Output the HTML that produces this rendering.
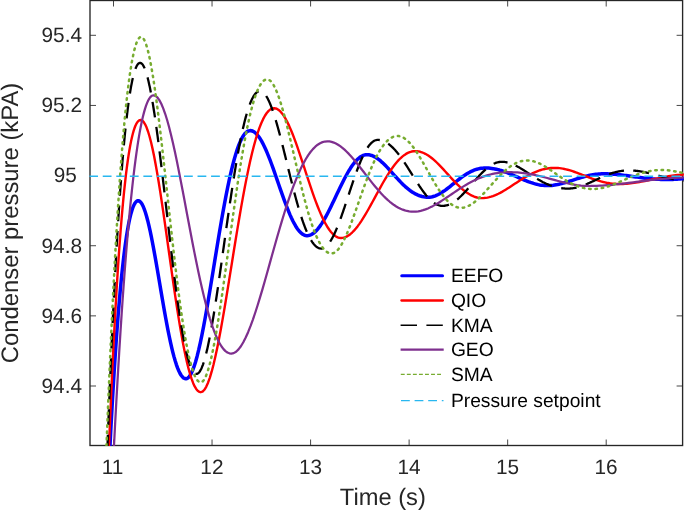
<!DOCTYPE html>
<html><head><meta charset="utf-8"><title>Condenser pressure</title>
<style>
html,body{margin:0;padding:0;background:#fff;}
body{width:685px;height:510px;overflow:hidden;font-family:"Liberation Sans",sans-serif;}
svg{display:block;will-change:transform;}
svg text{text-rendering:geometricPrecision;}
svg .lg text{fill:#000;}
svg text{font-family:"Liberation Sans",sans-serif;fill:#262626;}
</style></head><body>
<svg width="685" height="510" viewBox="0 0 685 510">
<rect x="0" y="0" width="685" height="510" fill="#fff"/>
<defs><clipPath id="c"><rect x="89.3" y="0" width="594.6" height="446.1"/></clipPath></defs>
<g stroke="#262626" stroke-width="1.35" fill="none">
<rect x="90.0" y="0.5" width="592.6" height="445.0"/>
<g stroke-width="0.85"><line x1="113.50" y1="445.5" x2="113.50" y2="439.5"/><line x1="113.50" y1="0.5" x2="113.50" y2="6.5"/><line x1="212.04" y1="445.5" x2="212.04" y2="439.5"/><line x1="212.04" y1="0.5" x2="212.04" y2="6.5"/><line x1="310.58" y1="445.5" x2="310.58" y2="439.5"/><line x1="310.58" y1="0.5" x2="310.58" y2="6.5"/><line x1="409.12" y1="445.5" x2="409.12" y2="439.5"/><line x1="409.12" y1="0.5" x2="409.12" y2="6.5"/><line x1="507.66" y1="445.5" x2="507.66" y2="439.5"/><line x1="507.66" y1="0.5" x2="507.66" y2="6.5"/><line x1="606.20" y1="445.5" x2="606.20" y2="439.5"/><line x1="606.20" y1="0.5" x2="606.20" y2="6.5"/><line x1="90.0" y1="35.30" x2="96.0" y2="35.30"/><line x1="682.6" y1="35.30" x2="676.6" y2="35.30"/><line x1="90.0" y1="105.44" x2="96.0" y2="105.44"/><line x1="682.6" y1="105.44" x2="676.6" y2="105.44"/><line x1="90.0" y1="245.72" x2="96.0" y2="245.72"/><line x1="682.6" y1="245.72" x2="676.6" y2="245.72"/><line x1="90.0" y1="315.86" x2="96.0" y2="315.86"/><line x1="682.6" y1="315.86" x2="676.6" y2="315.86"/><line x1="90.0" y1="386.00" x2="96.0" y2="386.00"/><line x1="682.6" y1="386.00" x2="676.6" y2="386.00"/></g>
</g>
<g clip-path="url(#c)" fill="none" stroke-linejoin="round">
<path d="M107.00,508.71 L107.78,491.43 L108.56,474.76 L109.34,458.66 L110.12,443.15 L110.90,428.21 L111.68,413.82 L112.46,399.99 L113.24,386.71 L114.02,373.96 L114.80,361.74 L115.58,350.04 L116.36,338.86 L117.14,328.18 L117.92,317.99 L118.70,308.29 L119.48,299.08 L120.26,290.33 L121.04,282.05 L121.82,274.22 L122.60,266.85 L123.38,259.91 L124.16,253.40 L124.94,247.31 L125.72,241.64 L126.50,236.38 L127.28,231.52 L128.06,227.04 L128.84,222.95 L129.62,219.23 L130.40,215.88 L131.18,212.89 L131.96,210.24 L132.74,207.94 L133.52,205.97 L134.30,204.33 L135.08,203.00 L135.86,201.98 L136.64,201.26 L137.42,200.84 L138.20,200.70 L139.39,201.04 L140.58,202.03 L141.78,203.68 L142.97,205.95 L144.16,208.81 L145.35,212.25 L146.55,216.22 L147.74,220.69 L148.93,225.61 L150.12,230.96 L151.32,236.68 L152.51,242.73 L153.70,249.06 L154.89,255.63 L156.09,262.39 L157.28,269.29 L158.47,276.28 L159.66,283.33 L160.86,290.37 L162.05,297.38 L163.24,304.30 L164.44,311.09 L165.63,317.72 L166.82,324.14 L168.01,330.32 L169.21,336.24 L170.40,341.85 L171.59,347.14 L172.78,352.08 L173.97,356.63 L175.17,360.80 L176.36,364.56 L177.55,367.89 L178.75,370.79 L179.94,373.24 L181.13,375.25 L182.32,376.81 L183.51,377.92 L184.71,378.58 L185.90,378.80 L187.50,378.31 L189.11,376.84 L190.72,374.43 L192.32,371.11 L193.93,366.92 L195.53,361.92 L197.13,356.16 L198.74,349.69 L200.34,342.58 L201.95,334.88 L203.56,326.68 L205.16,318.02 L206.77,308.99 L208.37,299.65 L209.97,290.08 L211.58,280.33 L213.19,270.49 L214.79,260.61 L216.40,250.77 L218.00,241.01 L219.61,231.41 L221.21,222.02 L222.81,212.89 L224.42,204.07 L226.03,195.60 L227.63,187.54 L229.24,179.92 L230.84,172.76 L232.44,166.11 L234.05,159.98 L235.66,154.41 L237.26,149.40 L238.87,144.97 L240.47,141.13 L242.07,137.89 L243.68,135.24 L245.28,133.20 L246.89,131.75 L248.50,130.88 L250.10,130.60 L251.52,130.77 L252.94,131.27 L254.37,132.11 L255.79,133.26 L257.21,134.74 L258.63,136.52 L260.06,138.59 L261.48,140.94 L262.90,143.56 L264.32,146.43 L265.75,149.52 L267.17,152.82 L268.59,156.30 L270.01,159.96 L271.44,163.75 L272.86,167.66 L274.28,171.66 L275.70,175.73 L277.13,179.84 L278.55,183.96 L279.97,188.08 L281.39,192.17 L282.82,196.19 L284.24,200.13 L285.66,203.96 L287.08,207.67 L288.51,211.21 L289.93,214.59 L291.35,217.77 L292.77,220.74 L294.20,223.48 L295.62,225.97 L297.04,228.20 L298.46,230.16 L299.89,231.84 L301.31,233.22 L302.73,234.30 L304.15,235.08 L305.58,235.54 L307.00,235.70 L308.50,235.56 L310.00,235.16 L311.51,234.49 L313.01,233.56 L314.51,232.38 L316.01,230.96 L317.52,229.31 L319.02,227.44 L320.52,225.36 L322.02,223.09 L323.53,220.65 L325.03,218.05 L326.53,215.31 L328.04,212.45 L329.54,209.49 L331.04,206.44 L332.54,203.33 L334.05,200.18 L335.55,197.00 L337.05,193.81 L338.55,190.64 L340.06,187.51 L341.56,184.43 L343.06,181.42 L344.56,178.51 L346.06,175.70 L347.57,173.01 L349.07,170.46 L350.57,168.07 L352.08,165.84 L353.58,163.78 L355.08,161.92 L356.58,160.26 L358.09,158.80 L359.59,157.55 L361.09,156.53 L362.59,155.73 L364.10,155.16 L365.60,154.81 L367.10,154.70 L368.63,154.79 L370.16,155.06 L371.68,155.49 L373.21,156.10 L374.74,156.85 L376.27,157.75 L377.79,158.78 L379.32,159.94 L380.85,161.21 L382.38,162.58 L383.90,164.03 L385.43,165.56 L386.96,167.15 L388.49,168.78 L390.01,170.45 L391.54,172.14 L393.07,173.85 L394.60,175.55 L396.12,177.24 L397.65,178.91 L399.18,180.54 L400.70,182.14 L402.23,183.68 L403.76,185.16 L405.29,186.58 L406.81,187.92 L408.34,189.18 L409.87,190.37 L411.40,191.46 L412.93,192.46 L414.45,193.37 L415.98,194.19 L417.51,194.90 L419.03,195.52 L420.56,196.04 L422.09,196.46 L423.62,196.79 L425.14,197.02 L426.67,197.16 L428.20,197.20 L429.63,197.14 L431.06,196.97 L432.50,196.69 L433.93,196.30 L435.36,195.80 L436.80,195.22 L438.23,194.54 L439.66,193.78 L441.09,192.94 L442.52,192.03 L443.96,191.07 L445.39,190.05 L446.82,188.99 L448.25,187.89 L449.69,186.76 L451.12,185.62 L452.55,184.46 L453.99,183.30 L455.42,182.14 L456.85,180.99 L458.28,179.86 L459.71,178.76 L461.15,177.68 L462.58,176.64 L464.01,175.65 L465.44,174.70 L466.88,173.80 L468.31,172.96 L469.74,172.18 L471.18,171.46 L472.61,170.80 L474.04,170.21 L475.47,169.69 L476.90,169.24 L478.34,168.86 L479.77,168.55 L481.20,168.31 L482.63,168.14 L484.07,168.03 L485.50,168.00 L487.05,168.03 L488.61,168.11 L490.16,168.24 L491.71,168.42 L493.26,168.65 L494.81,168.93 L496.37,169.26 L497.92,169.64 L499.47,170.06 L501.02,170.52 L502.58,171.02 L504.13,171.55 L505.68,172.12 L507.24,172.71 L508.79,173.34 L510.34,173.98 L511.89,174.64 L513.45,175.31 L515.00,176.00 L516.55,176.69 L518.10,177.38 L519.65,178.07 L521.21,178.75 L522.76,179.42 L524.31,180.07 L525.87,180.70 L527.42,181.31 L528.97,181.90 L530.52,182.45 L532.08,182.96 L533.63,183.44 L535.18,183.88 L536.73,184.27 L538.28,184.61 L539.84,184.91 L541.39,185.16 L542.94,185.35 L544.50,185.49 L546.05,185.57 L547.60,185.60 L549.02,185.58 L550.44,185.51 L551.85,185.40 L553.27,185.25 L554.69,185.05 L556.11,184.82 L557.52,184.56 L558.94,184.26 L560.36,183.92 L561.77,183.57 L563.19,183.18 L564.61,182.78 L566.03,182.36 L567.45,181.92 L568.86,181.47 L570.28,181.01 L571.70,180.54 L573.12,180.08 L574.53,179.61 L575.95,179.14 L577.37,178.69 L578.78,178.24 L580.20,177.80 L581.62,177.38 L583.04,176.97 L584.45,176.58 L585.87,176.21 L587.29,175.87 L588.71,175.54 L590.12,175.24 L591.54,174.97 L592.96,174.73 L594.38,174.51 L595.79,174.32 L597.21,174.16 L598.63,174.03 L600.05,173.93 L601.46,173.86 L602.88,173.81 L604.30,173.80 L605.87,173.81 L607.43,173.84 L609.00,173.90 L610.57,173.97 L612.14,174.06 L613.70,174.18 L615.27,174.30 L616.84,174.45 L618.41,174.61 L619.97,174.78 L621.54,174.97 L623.11,175.16 L624.68,175.37 L626.25,175.58 L627.81,175.80 L629.38,176.02 L630.95,176.24 L632.51,176.47 L634.08,176.69 L635.65,176.92 L637.22,177.14 L638.78,177.36 L640.35,177.57 L641.92,177.77 L643.49,177.97 L645.05,178.16 L646.62,178.33 L648.19,178.50 L649.76,178.66 L651.33,178.80 L652.89,178.93 L654.46,179.05 L656.03,179.16 L657.60,179.25 L659.16,179.33 L660.73,179.39 L662.30,179.44 L663.87,179.47 L665.43,179.49 L667.00,179.50 L668.45,179.49 L669.90,179.47 L671.35,179.43 L672.80,179.38 L674.25,179.31 L675.70,179.24 L677.15,179.15 L678.60,179.04 L680.05,178.93 L681.50,178.81 L682.95,178.68 L684.10,178.57" stroke="#0000ff" stroke-width="3.5"/>
<path d="M106.00,525.27 L106.86,501.14 L107.73,477.93 L108.59,455.63 L109.46,434.23 L110.33,413.69 L111.19,394.02 L112.05,375.19 L112.92,357.18 L113.78,339.99 L114.65,323.59 L115.52,307.96 L116.38,293.10 L117.25,278.98 L118.11,265.59 L118.97,252.91 L119.84,240.93 L120.70,229.63 L121.57,219.00 L122.44,209.01 L123.30,199.65 L124.16,190.90 L125.03,182.76 L125.89,175.20 L126.76,168.20 L127.62,161.75 L128.49,155.84 L129.35,150.45 L130.22,145.55 L131.09,141.14 L131.95,137.20 L132.81,133.72 L133.68,130.66 L134.54,128.03 L135.41,125.80 L136.28,123.96 L137.14,122.49 L138.00,121.38 L138.87,120.60 L139.74,120.15 L140.60,120.00 L142.10,120.48 L143.60,121.92 L145.11,124.30 L146.61,127.59 L148.11,131.75 L149.61,136.76 L151.12,142.56 L152.62,149.11 L154.12,156.36 L155.62,164.24 L157.13,172.71 L158.63,181.69 L160.13,191.13 L161.63,200.95 L163.14,211.09 L164.64,221.48 L166.14,232.06 L167.64,242.74 L169.15,253.47 L170.65,264.17 L172.15,274.79 L173.66,285.25 L175.16,295.49 L176.66,305.46 L178.16,315.10 L179.66,324.35 L181.17,333.16 L182.67,341.49 L184.17,349.29 L185.67,356.53 L187.18,363.16 L188.68,369.17 L190.18,374.51 L191.69,379.18 L193.19,383.15 L194.69,386.41 L196.19,388.94 L197.69,390.76 L199.20,391.84 L200.70,392.20 L202.53,391.59 L204.37,389.77 L206.20,386.79 L208.04,382.70 L209.88,377.57 L211.71,371.46 L213.54,364.44 L215.38,356.60 L217.22,348.02 L219.05,338.77 L220.88,328.96 L222.72,318.66 L224.56,307.96 L226.39,296.96 L228.22,285.73 L230.06,274.36 L231.90,262.94 L233.73,251.54 L235.56,240.24 L237.40,229.10 L239.24,218.20 L241.07,207.60 L242.91,197.34 L244.74,187.50 L246.58,178.11 L248.41,169.21 L250.25,160.84 L252.08,153.03 L253.92,145.82 L255.75,139.21 L257.59,133.23 L259.42,127.89 L261.25,123.19 L263.09,119.14 L264.93,115.75 L266.76,112.99 L268.60,110.87 L270.43,109.38 L272.26,108.49 L274.10,108.20 L275.77,108.44 L277.45,109.14 L279.12,110.30 L280.79,111.91 L282.46,113.94 L284.13,116.37 L285.81,119.19 L287.48,122.37 L289.15,125.88 L290.83,129.70 L292.50,133.79 L294.17,138.13 L295.84,142.68 L297.51,147.41 L299.19,152.28 L300.86,157.27 L302.53,162.33 L304.21,167.45 L305.88,172.57 L307.55,177.67 L309.22,182.73 L310.89,187.70 L312.57,192.56 L314.24,197.29 L315.91,201.84 L317.59,206.21 L319.26,210.37 L320.93,214.29 L322.60,217.96 L324.27,221.35 L325.95,224.46 L327.62,227.27 L329.29,229.77 L330.97,231.95 L332.64,233.80 L334.31,235.31 L335.98,236.49 L337.65,237.33 L339.33,237.83 L341.00,238.00 L342.86,237.84 L344.71,237.37 L346.57,236.59 L348.43,235.52 L350.29,234.16 L352.14,232.53 L354.00,230.64 L355.86,228.51 L357.72,226.15 L359.57,223.60 L361.43,220.86 L363.29,217.95 L365.15,214.90 L367.00,211.74 L368.86,208.47 L370.72,205.13 L372.58,201.74 L374.44,198.32 L376.29,194.89 L378.15,191.47 L380.01,188.09 L381.87,184.76 L383.72,181.50 L385.58,178.34 L387.44,175.29 L389.30,172.37 L391.15,169.59 L393.01,166.96 L394.87,164.51 L396.73,162.24 L398.58,160.16 L400.44,158.28 L402.30,156.60 L404.16,155.15 L406.01,153.91 L407.87,152.90 L409.73,152.11 L411.59,151.55 L413.44,151.21 L415.30,151.10 L416.97,151.18 L418.63,151.41 L420.30,151.79 L421.97,152.31 L423.64,152.99 L425.31,153.80 L426.97,154.74 L428.64,155.81 L430.31,156.99 L431.98,158.29 L433.64,159.69 L435.31,161.18 L436.98,162.75 L438.64,164.40 L440.31,166.10 L441.98,167.86 L443.65,169.66 L445.31,171.48 L446.98,173.32 L448.65,175.17 L450.32,177.01 L451.99,178.83 L453.65,180.63 L455.32,182.38 L456.99,184.09 L458.66,185.73 L460.32,187.30 L461.99,188.80 L463.66,190.21 L465.32,191.52 L466.99,192.73 L468.66,193.82 L470.33,194.81 L472.00,195.67 L473.66,196.41 L475.33,197.01 L477.00,197.49 L478.67,197.83 L480.33,198.03 L482.00,198.10 L483.82,198.04 L485.63,197.87 L487.45,197.58 L489.27,197.18 L491.09,196.68 L492.91,196.08 L494.72,195.39 L496.54,194.61 L498.36,193.76 L500.18,192.84 L501.99,191.85 L503.81,190.80 L505.63,189.71 L507.44,188.59 L509.26,187.43 L511.08,186.25 L512.90,185.05 L514.72,183.86 L516.53,182.66 L518.35,181.47 L520.17,180.30 L521.99,179.15 L523.80,178.04 L525.62,176.96 L527.44,175.92 L529.25,174.93 L531.07,174.00 L532.89,173.12 L534.71,172.30 L536.53,171.54 L538.34,170.85 L540.16,170.23 L541.98,169.69 L543.80,169.21 L545.61,168.81 L547.43,168.48 L549.25,168.22 L551.07,168.04 L552.88,167.94 L554.70,167.90 L556.32,167.93 L557.94,168.02 L559.56,168.17 L561.18,168.38 L562.80,168.65 L564.42,168.96 L566.04,169.33 L567.66,169.73 L569.28,170.19 L570.90,170.67 L572.52,171.20 L574.14,171.75 L575.76,172.33 L577.38,172.92 L579.00,173.54 L580.62,174.16 L582.24,174.80 L583.86,175.44 L585.48,176.07 L587.10,176.71 L588.72,177.33 L590.34,177.94 L591.96,178.54 L593.58,179.12 L595.20,179.67 L596.82,180.21 L598.44,180.71 L600.06,181.18 L601.68,181.62 L603.30,182.03 L604.92,182.40 L606.54,182.74 L608.16,183.03 L609.78,183.29 L611.40,183.51 L613.02,183.69 L614.64,183.82 L616.26,183.92 L617.88,183.98 L619.50,184.00 L621.31,183.98 L623.12,183.93 L624.94,183.83 L626.75,183.71 L628.56,183.55 L630.38,183.36 L632.19,183.14 L634.00,182.89 L635.81,182.62 L637.62,182.33 L639.44,182.01 L641.25,181.68 L643.06,181.33 L644.88,180.97 L646.69,180.60 L648.50,180.23 L650.31,179.84 L652.12,179.46 L653.94,179.07 L655.75,178.69 L657.56,178.32 L659.38,177.95 L661.19,177.59 L663.00,177.24 L664.81,176.91 L666.62,176.59 L668.44,176.28 L670.25,176.00 L672.06,175.73 L673.88,175.49 L675.69,175.26 L677.50,175.06 L679.31,174.88 L681.12,174.73 L682.94,174.60 L684.10,174.53" stroke="#ff0000" stroke-width="2.4"/>
<path d="M104.61,526.90 L104.64,526.15 L104.66,525.40 L104.69,524.65 L104.71,523.90 L104.74,523.15 L104.76,522.40 L104.79,521.65 L104.81,520.90 L104.84,520.15 L104.87,519.40 L104.89,518.65 L104.92,517.90 L104.94,517.15 L104.97,516.41 L104.99,515.66 L105.02,514.91 L105.04,514.16 L105.07,513.41 L105.09,512.66 L105.12,511.91 L105.15,511.16 L105.15,511.16 M105.48,501.41 L105.51,500.66 L105.53,499.91 L105.56,499.17 L105.59,498.42 L105.61,497.67 L105.64,496.92 L105.67,496.17 L105.69,495.42 L105.72,494.67 L105.74,493.92 L105.77,493.17 L105.80,492.42 L105.82,491.67 L105.85,490.92 L105.88,490.17 L105.90,489.42 L105.93,488.67 L105.96,487.92 L105.98,487.17 L106.01,486.42 L106.03,485.67 L106.03,485.67 M106.38,475.93 L106.41,475.18 L106.44,474.43 L106.46,473.68 L106.49,472.93 L106.52,472.18 L106.55,471.43 L106.57,470.68 L106.60,469.93 L106.63,469.18 L106.65,468.43 L106.68,467.69 L106.71,466.94 L106.74,466.19 L106.76,465.44 L106.79,464.69 L106.82,463.94 L106.85,463.19 L106.87,462.44 L106.90,461.69 L106.93,460.94 L106.96,460.19 L106.96,460.19 M107.32,450.45 L107.34,449.70 L107.37,448.95 L107.40,448.20 L107.43,447.45 L107.46,446.70 L107.49,445.95 L107.52,445.20 L107.54,444.45 L107.57,443.70 L107.60,442.95 L107.63,442.20 L107.66,441.45 L107.69,440.70 L107.71,439.95 L107.74,439.21 L107.77,438.46 L107.80,437.71 L107.83,436.96 L107.86,436.21 L107.88,435.46 L107.91,434.71 L107.91,434.71 M108.29,424.97 L108.32,424.22 L108.35,423.47 L108.38,422.72 L108.41,421.97 L108.44,421.22 L108.47,420.47 L108.50,419.72 L108.53,418.97 L108.55,418.22 L108.58,417.47 L108.61,416.72 L108.64,415.97 L108.67,415.22 L108.70,414.47 L108.73,413.72 L108.76,412.97 L108.79,412.23 L108.82,411.48 L108.85,410.73 L108.88,409.98 L108.91,409.23 L108.91,409.23 M109.30,399.49 L109.33,398.74 L109.36,397.99 L109.40,397.24 L109.43,396.49 L109.46,395.74 L109.49,394.99 L109.52,394.24 L109.55,393.49 L109.58,392.74 L109.61,391.99 L109.64,391.24 L109.67,390.49 L109.70,389.74 L109.73,388.99 L109.76,388.25 L109.79,387.50 L109.82,386.75 L109.85,386.00 L109.89,385.25 L109.92,384.50 L109.95,383.75 L109.95,383.75 M110.36,374.01 L110.40,373.26 L110.43,372.51 L110.46,371.76 L110.49,371.01 L110.52,370.26 L110.55,369.51 L110.59,368.76 L110.62,368.01 L110.65,367.26 L110.68,366.51 L110.71,365.77 L110.75,365.02 L110.78,364.27 L110.81,363.52 L110.85,362.77 L110.88,362.02 L110.91,361.27 L110.94,360.52 L110.98,359.77 L111.01,359.02 L111.04,358.27 L111.04,358.27 M111.47,348.53 L111.51,347.78 L111.54,347.03 L111.57,346.28 L111.61,345.54 L111.64,344.79 L111.68,344.04 L111.71,343.29 L111.74,342.54 L111.78,341.79 L111.81,341.04 L111.85,340.29 L111.88,339.54 L111.92,338.79 L111.95,338.04 L111.99,337.29 L112.02,336.54 L112.05,335.80 L112.09,335.05 L112.12,334.30 L112.16,333.55 L112.19,332.80 L112.19,332.80 M112.65,323.06 L112.68,322.31 L112.72,321.56 L112.75,320.81 L112.79,320.06 L112.83,319.31 L112.86,318.56 L112.90,317.82 L112.93,317.07 L112.97,316.32 L113.01,315.57 L113.04,314.82 L113.08,314.07 L113.11,313.32 L113.15,312.57 L113.19,311.82 L113.22,311.07 L113.26,310.32 L113.29,309.57 L113.33,308.83 L113.37,308.08 L113.40,307.33 L113.40,307.33 M113.89,297.59 L113.93,296.84 L113.97,296.09 L114.00,295.34 L114.04,294.59 L114.08,293.84 L114.12,293.10 L114.15,292.35 L114.19,291.60 L114.23,290.85 L114.27,290.10 L114.30,289.35 L114.34,288.60 L114.38,287.85 L114.42,287.10 L114.46,286.35 L114.50,285.60 L114.54,284.86 L114.58,284.11 L114.62,283.36 L114.66,282.61 L114.70,281.86 L114.70,281.86 M115.21,272.12 L115.25,271.37 L115.29,270.63 L115.33,269.88 L115.37,269.13 L115.42,268.38 L115.46,267.63 L115.50,266.88 L115.54,266.13 L115.58,265.38 L115.62,264.63 L115.66,263.89 L115.70,263.14 L115.74,262.39 L115.79,261.64 L115.83,260.89 L115.87,260.14 L115.91,259.39 L115.95,258.64 L115.99,257.90 L116.03,257.15 L116.07,256.40 L116.07,256.40 M116.63,246.66 L116.68,245.91 L116.72,245.17 L116.76,244.42 L116.81,243.67 L116.85,242.92 L116.89,242.17 L116.94,241.42 L116.98,240.67 L117.03,239.92 L117.07,239.18 L117.12,238.43 L117.16,237.68 L117.21,236.93 L117.25,236.18 L117.30,235.43 L117.34,234.68 L117.39,233.94 L117.43,233.19 L117.48,232.44 L117.52,231.69 L117.57,230.94 L117.57,230.94 M118.17,221.21 L118.22,220.46 L118.27,219.71 L118.32,218.96 L118.36,218.22 L118.41,217.47 L118.46,216.72 L118.51,215.97 L118.55,215.22 L118.60,214.47 L118.65,213.73 L118.70,212.98 L118.74,212.23 L118.79,211.48 L118.85,210.73 L118.90,209.98 L118.95,209.23 L119.00,208.49 L119.05,207.74 L119.10,206.99 L119.15,206.24 L119.20,205.49 L119.20,205.49 M119.86,195.77 L119.91,195.02 L119.97,194.27 L120.02,193.52 L120.07,192.77 L120.13,192.03 L120.18,191.28 L120.23,190.53 L120.28,189.78 L120.34,189.03 L120.39,188.28 L120.44,187.54 L120.50,186.79 L120.55,186.04 L120.61,185.29 L120.66,184.54 L120.72,183.80 L120.77,183.05 L120.83,182.30 L120.89,181.55 L120.94,180.81 L121.00,180.06 L121.00,180.06 M121.75,170.34 L121.81,169.59 L121.86,168.84 L121.92,168.09 L121.98,167.35 L122.04,166.60 L122.10,165.85 L122.16,165.10 L122.22,164.35 L122.28,163.61 L122.34,162.86 L122.41,162.11 L122.47,161.36 L122.53,160.62 L122.59,159.87 L122.66,159.12 L122.72,158.38 L122.78,157.63 L122.85,156.88 L122.91,156.13 L122.97,155.39 L123.02,154.89 M123.86,145.43 L123.92,144.68 L123.99,143.93 L124.06,143.18 L124.13,142.44 L124.20,141.69 L124.27,140.94 L124.34,140.20 L124.42,139.45 L124.49,138.70 L124.56,137.96 L124.63,137.21 L124.70,136.47 L124.78,135.72 L124.85,134.97 L124.92,134.23 L124.99,133.48 L125.07,132.73 L125.15,131.99 L125.22,131.24 L125.30,130.50 L125.38,129.75 L125.45,129.00 L125.51,128.51 M126.61,118.32 L126.70,117.57 L126.78,116.83 L126.87,116.08 L126.96,115.34 L127.05,114.59 L127.14,113.85 L127.23,113.10 L127.32,112.36 L127.41,111.61 L127.50,110.87 L127.59,110.12 L127.68,109.38 L127.78,108.64 L127.87,107.89 L127.97,107.15 L128.07,106.40 L128.17,105.66 L128.26,104.92 L128.36,104.17 L128.46,103.43 L128.52,102.93 M129.91,93.54 L130.03,92.80 L130.14,92.05 L130.26,91.31 L130.39,90.57 L130.51,89.84 L130.64,89.10 L130.77,88.36 L130.90,87.62 L131.03,86.88 L131.16,86.14 L131.30,85.40 L131.44,84.67 L131.59,83.93 L131.73,83.20 L131.87,82.46 L132.02,81.72 L132.17,80.99 L132.33,80.26 L132.49,79.52 L132.66,78.79 L132.82,78.06 L132.82,78.06 M135.43,68.93 L135.69,68.23 L135.99,67.54 L136.30,66.86 L136.61,66.18 L136.98,65.53 L137.36,64.88 L137.81,64.28 L138.29,63.70 L138.88,63.25 L139.55,62.93 L140.27,62.86 L140.97,63.13 L141.62,63.47 L142.12,64.03 L142.62,64.59 L143.06,65.19 L143.41,65.85 L143.76,66.52 L144.11,67.18 L144.43,67.85 L144.61,68.32 M147.52,77.36 L147.70,78.08 L147.89,78.81 L148.07,79.54 L148.25,80.27 L148.44,80.99 L148.61,81.72 L148.77,82.46 L148.93,83.19 L149.09,83.92 L149.25,84.65 L149.41,85.39 L149.57,86.12 L149.73,86.85 L149.89,87.59 L150.04,88.32 L150.18,89.06 L150.32,89.79 L150.46,90.53 L150.60,91.27 L150.74,92.00 L150.84,92.49 M152.51,101.84 L152.64,102.58 L152.77,103.32 L152.89,104.06 L153.01,104.80 L153.13,105.54 L153.24,106.28 L153.36,107.03 L153.48,107.77 L153.60,108.51 L153.71,109.25 L153.83,109.99 L153.95,110.73 L154.07,111.47 L154.19,112.21 L154.30,112.95 L154.41,113.69 L154.52,114.44 L154.63,115.18 L154.74,115.92 L154.85,116.66 L154.96,117.40 L154.96,117.40 M156.30,126.81 L156.41,127.55 L156.51,128.29 L156.61,129.04 L156.72,129.78 L156.82,130.52 L156.92,131.26 L157.03,132.01 L157.13,132.75 L157.22,133.49 L157.32,134.24 L157.42,134.98 L157.52,135.72 L157.62,136.47 L157.72,137.21 L157.81,137.96 L157.91,138.70 L158.01,139.44 L158.11,140.19 L158.21,140.93 L158.31,141.67 L158.37,142.17 M159.54,151.34 L159.63,152.09 L159.73,152.83 L159.82,153.58 L159.91,154.32 L160.01,155.07 L160.10,155.81 L160.19,156.55 L160.28,157.30 L160.37,158.04 L160.46,158.79 L160.55,159.53 L160.64,160.28 L160.74,161.02 L160.83,161.77 L160.92,162.51 L161.01,163.25 L161.10,164.00 L161.19,164.74 L161.28,165.49 L161.37,166.23 L161.46,166.98 L161.49,167.23 M162.65,176.91 L162.74,177.65 L162.82,178.40 L162.91,179.14 L163.00,179.89 L163.09,180.63 L163.17,181.38 L163.26,182.12 L163.35,182.87 L163.44,183.61 L163.52,184.36 L163.61,185.10 L163.70,185.84 L163.78,186.59 L163.87,187.33 L163.96,188.08 L164.05,188.82 L164.13,189.57 L164.22,190.31 L164.31,191.06 L164.39,191.80 L164.45,192.30 M165.54,201.74 L165.63,202.48 L165.71,203.23 L165.80,203.97 L165.89,204.72 L165.97,205.46 L166.06,206.21 L166.14,206.95 L166.23,207.70 L166.32,208.44 L166.40,209.19 L166.49,209.93 L166.57,210.68 L166.66,211.42 L166.74,212.17 L166.83,212.91 L166.92,213.66 L167.00,214.40 L167.09,215.15 L167.17,215.89 L167.26,216.64 L167.32,217.14 M168.41,226.57 L168.49,227.32 L168.58,228.06 L168.66,228.81 L168.75,229.55 L168.84,230.30 L168.92,231.04 L169.01,231.79 L169.10,232.53 L169.18,233.28 L169.27,234.02 L169.36,234.77 L169.44,235.51 L169.53,236.26 L169.61,237.00 L169.70,237.75 L169.79,238.49 L169.88,239.24 L169.96,239.98 L170.05,240.73 L170.14,241.47 L170.20,241.97 M171.28,251.16 L171.37,251.90 L171.46,252.65 L171.55,253.39 L171.64,254.13 L171.73,254.88 L171.81,255.62 L171.90,256.37 L171.99,257.11 L172.08,257.86 L172.17,258.60 L172.26,259.35 L172.35,260.09 L172.44,260.84 L172.53,261.58 L172.62,262.33 L172.71,263.07 L172.80,263.81 L172.89,264.56 L172.99,265.30 L173.08,266.05 L173.17,266.79 L173.23,267.29 M174.43,276.96 L174.53,277.71 L174.62,278.45 L174.72,279.20 L174.81,279.94 L174.91,280.68 L175.00,281.43 L175.09,282.17 L175.19,282.92 L175.28,283.66 L175.38,284.40 L175.48,285.15 L175.58,285.89 L175.67,286.64 L175.77,287.38 L175.87,288.12 L175.97,288.87 L176.07,289.61 L176.16,290.35 L176.26,291.10 L176.33,291.59 M177.54,300.51 L177.64,301.25 L177.74,302.00 L177.85,302.74 L177.95,303.48 L178.05,304.22 L178.16,304.97 L178.26,305.71 L178.37,306.45 L178.48,307.19 L178.59,307.94 L178.70,308.68 L178.81,309.42 L178.91,310.16 L179.02,310.90 L179.13,311.65 L179.24,312.39 L179.35,313.13 L179.46,313.87 L179.56,314.62 L179.68,315.36 L179.75,315.85 M181.23,325.24 L181.36,325.97 L181.48,326.71 L181.60,327.45 L181.73,328.19 L181.85,328.93 L181.97,329.67 L182.10,330.41 L182.22,331.15 L182.35,331.89 L182.48,332.63 L182.61,333.37 L182.75,334.11 L182.88,334.84 L183.01,335.58 L183.15,336.32 L183.28,337.06 L183.42,337.80 L183.55,338.53 L183.69,339.27 L183.82,340.01 L183.97,340.74 L184.12,341.48 L184.12,341.48 M186.19,351.26 L186.35,351.99 L186.52,352.73 L186.69,353.46 L186.88,354.18 L187.07,354.91 L187.25,355.63 L187.44,356.36 L187.63,357.09 L187.82,357.81 L188.00,358.54 L188.21,359.26 L188.43,359.98 L188.65,360.69 L188.87,361.41 L189.08,362.13 L189.30,362.85 L189.53,363.56 L189.79,364.27 L190.05,364.97 L190.31,365.67 L190.39,365.91 M195.46,373.69 L196.18,373.90 L196.89,373.86 L197.59,373.60 L198.24,373.25 L198.75,372.70 L199.25,372.15 L199.74,371.58 L200.10,370.93 L200.47,370.27 L200.84,369.62 L201.20,368.96 L201.50,368.27 L201.78,367.58 L202.07,366.89 L202.35,366.19 L202.63,365.50 L202.90,364.80 L203.13,364.08 L203.36,363.37 L203.60,362.66 L203.67,362.42 M206.19,353.52 L206.36,352.79 L206.53,352.06 L206.70,351.33 L206.88,350.60 L207.05,349.87 L207.22,349.14 L207.39,348.41 L207.56,347.68 L207.72,346.95 L207.88,346.21 L208.03,345.48 L208.19,344.75 L208.34,344.01 L208.50,343.28 L208.65,342.54 L208.80,341.81 L208.96,341.08 L209.11,340.34 L209.26,339.61 L209.40,338.87 L209.54,338.13 L209.69,337.40 L209.69,337.40 M211.51,327.57 L211.64,326.83 L211.77,326.09 L211.90,325.35 L212.04,324.61 L212.17,323.87 L212.30,323.13 L212.43,322.40 L212.55,321.66 L212.67,320.92 L212.80,320.18 L212.92,319.44 L213.04,318.70 L213.17,317.96 L213.29,317.22 L213.41,316.48 L213.54,315.74 L213.66,315.00 L213.78,314.26 L213.91,313.52 L214.03,312.78 L214.14,312.04 L214.22,311.54 M215.78,301.67 L215.89,300.92 L216.00,300.18 L216.11,299.44 L216.23,298.70 L216.34,297.96 L216.45,297.22 L216.57,296.47 L216.68,295.73 L216.79,294.99 L216.90,294.25 L217.02,293.51 L217.13,292.77 L217.24,292.03 L217.35,291.28 L217.46,290.54 L217.57,289.80 L217.68,289.06 L217.79,288.32 L217.90,287.57 L217.97,287.08 M219.27,278.17 L219.37,277.43 L219.48,276.69 L219.59,275.95 L219.70,275.20 L219.80,274.46 L219.91,273.72 L220.02,272.98 L220.12,272.23 L220.23,271.49 L220.34,270.75 L220.44,270.01 L220.55,269.26 L220.65,268.52 L220.76,267.78 L220.86,267.04 L220.97,266.29 L221.07,265.55 L221.18,264.81 L221.28,264.07 L221.39,263.32 L221.49,262.58 L221.49,262.58 M222.82,253.17 L222.93,252.43 L223.03,251.69 L223.13,250.95 L223.24,250.20 L223.34,249.46 L223.45,248.72 L223.55,247.98 L223.66,247.23 L223.76,246.49 L223.87,245.75 L223.97,245.00 L224.07,244.26 L224.18,243.52 L224.28,242.78 L224.39,242.03 L224.49,241.29 L224.60,240.55 L224.70,239.81 L224.80,239.06 L224.91,238.32 L224.98,237.83 M226.34,228.17 L226.45,227.43 L226.55,226.69 L226.65,225.94 L226.76,225.20 L226.87,224.46 L226.97,223.72 L227.08,222.97 L227.19,222.23 L227.29,221.49 L227.40,220.75 L227.50,220.00 L227.61,219.26 L227.72,218.52 L227.82,217.78 L227.93,217.03 L228.03,216.29 L228.14,215.55 L228.25,214.81 L228.35,214.06 L228.46,213.32 L228.53,212.83 M229.90,203.43 L230.01,202.68 L230.12,201.94 L230.23,201.20 L230.34,200.46 L230.45,199.72 L230.57,198.98 L230.68,198.23 L230.79,197.49 L230.90,196.75 L231.01,196.01 L231.12,195.27 L231.23,194.52 L231.34,193.78 L231.45,193.04 L231.56,192.30 L231.68,191.56 L231.79,190.82 L231.91,190.08 L232.02,189.33 L232.13,188.59 L232.25,187.85 L232.25,187.85 M233.71,178.47 L233.83,177.73 L233.95,176.98 L234.07,176.24 L234.19,175.50 L234.30,174.76 L234.42,174.02 L234.54,173.28 L234.66,172.54 L234.78,171.80 L234.91,171.06 L235.03,170.32 L235.15,169.58 L235.28,168.84 L235.40,168.10 L235.52,167.36 L235.65,166.62 L235.77,165.88 L235.89,165.14 L236.02,164.40 L236.14,163.66 L236.22,163.17 M237.91,153.57 L238.05,152.83 L238.18,152.09 L238.32,151.36 L238.46,150.62 L238.60,149.88 L238.73,149.14 L238.87,148.41 L239.01,147.67 L239.14,146.93 L239.28,146.19 L239.42,145.46 L239.57,144.72 L239.71,143.99 L239.86,143.25 L240.00,142.51 L240.15,141.78 L240.29,141.04 L240.44,140.31 L240.59,139.57 L240.73,138.84 L240.83,138.35 M242.83,129.06 L243.00,128.33 L243.17,127.60 L243.34,126.87 L243.51,126.14 L243.68,125.41 L243.85,124.67 L244.02,123.94 L244.19,123.22 L244.38,122.49 L244.56,121.76 L244.75,121.04 L244.94,120.31 L245.12,119.58 L245.31,118.86 L245.49,118.13 L245.68,117.40 L245.88,116.68 L246.09,115.96 L246.29,115.24 L246.50,114.52 L246.71,113.80 L246.71,113.80 M249.74,104.53 L250.00,103.83 L250.27,103.13 L250.54,102.43 L250.84,101.74 L251.15,101.06 L251.45,100.37 L251.75,99.69 L252.06,99.00 L252.42,98.34 L252.78,97.69 L253.14,97.03 L253.50,96.37 L253.90,95.74 L254.33,95.12 L254.76,94.51 L255.20,93.90 L255.72,93.36 L256.25,92.83 L256.78,92.30 L257.41,91.90 L258.06,91.52 L258.50,91.29 M266.19,95.95 L266.56,96.60 L266.94,97.24 L267.32,97.89 L267.69,98.54 L268.02,99.22 L268.34,99.89 L268.67,100.57 L269.00,101.24 L269.31,101.92 L269.60,102.61 L269.90,103.31 L270.19,104.00 L270.48,104.69 L270.76,105.38 L271.03,106.08 L271.29,106.79 L271.55,107.49 L271.82,108.19 L272.08,108.89 L272.34,109.60 L272.58,110.31 L272.74,110.78 M275.72,120.06 L275.93,120.78 L276.14,121.50 L276.36,122.22 L276.57,122.94 L276.78,123.66 L276.99,124.38 L277.19,125.10 L277.39,125.83 L277.59,126.55 L277.80,127.27 L278.00,127.99 L278.20,128.71 L278.40,129.44 L278.60,130.16 L278.79,130.89 L278.98,131.61 L279.18,132.33 L279.37,133.06 L279.57,133.78 L279.76,134.51 L279.96,135.23 L280.02,135.47 M282.44,144.92 L282.62,145.65 L282.81,146.37 L282.99,147.10 L283.17,147.83 L283.35,148.56 L283.53,149.28 L283.71,150.01 L283.89,150.74 L284.07,151.47 L284.26,152.20 L284.44,152.92 L284.62,153.65 L284.79,154.38 L284.97,155.11 L285.15,155.84 L285.33,156.56 L285.51,157.29 L285.69,158.02 L285.87,158.75 L286.05,159.48 L286.17,159.96 M288.36,168.95 L288.54,169.68 L288.72,170.41 L288.90,171.13 L289.08,171.86 L289.26,172.59 L289.44,173.32 L289.62,174.05 L289.80,174.77 L289.98,175.50 L290.16,176.23 L290.34,176.96 L290.52,177.69 L290.70,178.41 L290.88,179.14 L291.07,179.87 L291.25,180.60 L291.43,181.32 L291.61,182.05 L291.80,182.78 L291.98,183.51 L291.98,183.51 M294.29,192.46 L294.48,193.19 L294.67,193.91 L294.86,194.64 L295.06,195.36 L295.25,196.09 L295.44,196.81 L295.64,197.54 L295.84,198.26 L296.04,198.98 L296.23,199.71 L296.43,200.43 L296.63,201.15 L296.83,201.88 L297.03,202.60 L297.24,203.32 L297.44,204.04 L297.65,204.76 L297.85,205.48 L298.06,206.21 L298.27,206.93 L298.48,207.65 L298.48,207.65 M301.34,216.97 L301.58,217.68 L301.81,218.39 L302.05,219.10 L302.29,219.81 L302.53,220.52 L302.77,221.23 L303.01,221.94 L303.27,222.65 L303.52,223.35 L303.78,224.06 L304.03,224.76 L304.29,225.47 L304.55,226.17 L304.82,226.87 L305.10,227.57 L305.37,228.27 L305.64,228.96 L305.92,229.66 L306.21,230.35 L306.51,231.04 L306.80,231.73 L306.80,231.73 M311.07,240.21 L311.47,240.84 L311.87,241.48 L312.29,242.10 L312.73,242.71 L313.18,243.31 L313.62,243.91 L314.12,244.47 L314.63,245.03 L315.13,245.58 L315.70,246.07 L316.27,246.56 L316.85,247.03 L317.49,247.41 L318.13,247.80 L318.83,248.08 L319.54,248.33 L320.27,248.48 L321.01,248.57 L321.76,248.54 L322.50,248.44 L323.21,248.22 L323.21,248.22 M330.14,241.61 L330.55,240.98 L330.95,240.35 L331.33,239.70 L331.70,239.05 L332.07,238.39 L332.43,237.74 L332.78,237.08 L333.12,236.41 L333.46,235.74 L333.80,235.07 L334.12,234.39 L334.44,233.71 L334.75,233.03 L335.07,232.35 L335.38,231.67 L335.68,230.98 L335.97,230.29 L336.27,229.60 L336.57,228.91 L336.86,228.22 L337.05,227.76 M340.46,218.89 L340.72,218.19 L340.98,217.49 L341.23,216.78 L341.48,216.07 L341.73,215.37 L341.98,214.66 L342.23,213.95 L342.48,213.24 L342.72,212.53 L342.97,211.83 L343.21,211.12 L343.45,210.41 L343.70,209.70 L343.94,208.99 L344.18,208.28 L344.42,207.57 L344.66,206.86 L344.90,206.15 L345.14,205.43 L345.38,204.72 L345.61,204.01 L345.69,203.77 M348.75,194.52 L348.99,193.80 L349.22,193.09 L349.46,192.38 L349.69,191.67 L349.93,190.96 L350.16,190.24 L350.40,189.53 L350.63,188.82 L350.87,188.11 L351.11,187.40 L351.35,186.69 L351.58,185.97 L351.82,185.26 L352.06,184.55 L352.30,183.84 L352.54,183.13 L352.78,182.42 L353.02,181.71 L353.27,181.00 L353.51,180.29 L353.51,180.29 M356.59,171.57 L356.86,170.87 L357.12,170.17 L357.38,169.46 L357.64,168.76 L357.91,168.06 L358.18,167.36 L358.45,166.66 L358.72,165.96 L359.00,165.26 L359.27,164.56 L359.55,163.87 L359.84,163.18 L360.12,162.48 L360.41,161.79 L360.69,161.10 L360.99,160.41 L361.30,159.72 L361.60,159.03 L361.90,158.35 L362.20,157.66 L362.52,156.98 L362.73,156.53 M367.50,147.75 L367.92,147.13 L368.35,146.52 L368.79,145.91 L369.24,145.31 L369.72,144.73 L370.20,144.16 L370.70,143.60 L371.24,143.07 L371.77,142.55 L372.35,142.07 L372.94,141.61 L373.56,141.19 L374.22,140.83 L374.88,140.48 L375.59,140.25 L376.31,140.04 L377.06,139.96 L377.80,139.91 L378.55,139.95 L379.30,140.00 L379.79,140.08 M388.19,143.73 L388.81,144.16 L389.40,144.63 L389.98,145.10 L390.56,145.57 L391.11,146.08 L391.67,146.58 L392.22,147.09 L392.75,147.62 L393.28,148.15 L393.81,148.69 L394.31,149.24 L394.82,149.79 L395.33,150.35 L395.81,150.92 L396.30,151.49 L396.79,152.06 L397.26,152.64 L397.73,153.23 L398.20,153.81 L398.66,154.40 L398.96,154.80 M404.31,162.34 L404.73,162.97 L405.15,163.59 L405.55,164.22 L405.96,164.85 L406.37,165.48 L406.78,166.11 L407.18,166.74 L407.59,167.37 L407.99,168.00 L408.39,168.64 L408.79,169.27 L409.19,169.91 L409.59,170.54 L409.99,171.18 L410.39,171.81 L410.78,172.45 L411.18,173.08 L411.58,173.72 L411.98,174.36 L412.37,174.99 L412.77,175.63 L412.77,175.63 M417.99,183.86 L418.40,184.49 L418.82,185.12 L419.23,185.74 L419.64,186.37 L420.07,186.99 L420.49,187.60 L420.91,188.22 L421.34,188.84 L421.77,189.45 L422.21,190.06 L422.64,190.67 L423.08,191.28 L423.53,191.88 L423.98,192.48 L424.43,193.08 L424.90,193.67 L425.36,194.26 L425.83,194.85 L426.30,195.43 L426.79,196.00 L427.11,196.38 M434.01,202.88 L434.63,203.30 L435.27,203.69 L435.91,204.08 L436.58,204.41 L437.26,204.74 L437.95,205.02 L438.66,205.27 L439.37,205.49 L440.11,205.64 L440.84,205.79 L441.59,205.84 L442.34,205.90 L443.09,205.87 L443.84,205.83 L444.58,205.74 L445.32,205.64 L446.06,205.47 L446.79,205.31 L447.50,205.09 L448.22,204.86 L448.92,204.59 L448.92,204.59 M457.19,199.50 L457.76,199.02 L458.33,198.53 L458.90,198.04 L459.45,197.53 L460.00,197.02 L460.55,196.51 L461.09,195.99 L461.62,195.47 L462.15,194.93 L462.68,194.40 L463.20,193.86 L463.72,193.32 L464.23,192.77 L464.75,192.23 L465.25,191.67 L465.76,191.12 L466.27,190.57 L466.76,190.01 L467.26,189.45 L467.76,188.88 L468.26,188.32 L468.26,188.32 M474.62,180.94 L475.11,180.37 L475.61,179.81 L476.10,179.24 L476.60,178.68 L477.10,178.12 L477.59,177.56 L478.09,177.00 L478.60,176.44 L479.11,175.89 L479.61,175.34 L480.13,174.79 L480.64,174.25 L481.16,173.70 L481.69,173.17 L482.21,172.63 L482.74,172.11 L483.28,171.58 L483.82,171.06 L484.37,170.55 L484.92,170.04 L485.47,169.54 L485.66,169.37 M493.65,163.84 L494.33,163.51 L495.02,163.22 L495.71,162.94 L496.43,162.70 L497.14,162.48 L497.87,162.29 L498.60,162.13 L499.34,162.00 L500.08,161.90 L500.83,161.84 L501.58,161.81 L502.33,161.82 L503.08,161.85 L503.82,161.90 L504.57,161.98 L505.31,162.08 L506.05,162.21 L506.79,162.34 L507.52,162.51 L507.52,162.51 M515.68,165.60 L516.35,165.94 L517.02,166.28 L517.68,166.64 L518.34,167.00 L518.99,167.37 L519.64,167.74 L520.29,168.12 L520.93,168.51 L521.57,168.89 L522.21,169.29 L522.85,169.68 L523.49,170.08 L524.12,170.48 L524.75,170.89 L525.38,171.29 L526.01,171.70 L526.64,172.11 L527.27,172.52 L527.89,172.93 L528.52,173.34 L529.15,173.75 L529.15,173.75 M537.16,178.85 L537.81,179.24 L538.45,179.62 L539.10,180.00 L539.75,180.37 L540.41,180.74 L541.06,181.10 L541.72,181.46 L542.38,181.81 L543.05,182.16 L543.72,182.49 L544.39,182.83 L545.06,183.16 L545.74,183.47 L546.42,183.79 L547.11,184.09 L547.80,184.39 L548.49,184.68 L549.19,184.95 L549.88,185.23 L550.59,185.49 L551.29,185.74 L551.77,185.91 M561.24,188.15 L561.98,188.24 L562.73,188.33 L563.47,188.40 L564.22,188.46 L564.97,188.51 L565.72,188.54 L566.47,188.58 L567.22,188.59 L567.97,188.60 L568.72,188.58 L569.47,188.57 L570.22,188.52 L570.96,188.47 L571.71,188.39 L572.46,188.30 L573.20,188.19 L573.94,188.08 L574.68,187.94 L575.41,187.80 L576.14,187.64 L576.63,187.52 M585.63,184.52 L586.33,184.24 L587.02,183.94 L587.71,183.65 L588.39,183.35 L589.08,183.04 L589.76,182.73 L590.45,182.42 L591.13,182.11 L591.81,181.79 L592.49,181.48 L593.17,181.16 L593.85,180.84 L594.52,180.52 L595.20,180.20 L595.88,179.88 L596.56,179.56 L597.24,179.24 L597.91,178.92 L598.59,178.60 L599.27,178.28 L599.96,177.97 L600.18,177.87 M609.18,174.12 L609.89,173.87 L610.60,173.62 L611.31,173.39 L612.02,173.15 L612.74,172.93 L613.46,172.72 L614.18,172.51 L614.90,172.31 L615.63,172.12 L616.35,171.94 L617.08,171.77 L617.82,171.61 L618.55,171.45 L619.29,171.31 L620.02,171.17 L620.76,171.06 L621.50,170.94 L622.25,170.84 L622.99,170.75 L623.74,170.67 L623.99,170.64 M633.23,170.55 L633.97,170.60 L634.72,170.67 L635.47,170.74 L636.21,170.82 L636.96,170.90 L637.70,171.00 L638.45,171.10 L639.19,171.21 L639.93,171.32 L640.67,171.45 L641.41,171.57 L642.15,171.71 L642.88,171.85 L643.62,172.00 L644.35,172.15 L645.09,172.30 L645.82,172.46 L646.55,172.62 L647.28,172.79 L648.01,172.96 L648.74,173.14 L648.98,173.20 M658.42,175.65 L659.15,175.84 L659.87,176.03 L660.60,176.22 L661.32,176.41 L662.05,176.60 L662.77,176.79 L663.50,176.97 L664.23,177.16 L664.96,177.34 L665.68,177.52 L666.41,177.69 L667.14,177.87 L667.87,178.04 L668.60,178.20 L669.34,178.37 L670.07,178.53 L670.80,178.68 L671.54,178.84 L672.27,178.98 L673.01,179.13 L673.75,179.26 L673.75,179.26 M683.40,180.61 L683.90,180.66 " stroke="#000" stroke-width="2.3"/>
<path d="M111.00,507.02 L112.06,484.57 L113.12,462.85 L114.19,441.85 L115.25,421.56 L116.31,401.97 L117.38,383.08 L118.44,364.88 L119.50,347.36 L120.56,330.51 L121.62,314.33 L122.69,298.79 L123.75,283.91 L124.81,269.66 L125.88,256.04 L126.94,243.04 L128.00,230.65 L129.06,218.87 L130.12,207.68 L131.19,197.08 L132.25,187.06 L133.31,177.61 L134.38,168.72 L135.44,160.39 L136.50,152.60 L137.56,145.34 L138.62,138.62 L139.69,132.42 L140.75,126.72 L141.81,121.54 L142.88,116.84 L143.94,112.64 L145.00,108.91 L146.06,105.65 L147.12,102.85 L148.19,100.51 L149.25,98.61 L150.31,97.15 L151.38,96.12 L152.44,95.50 L153.50,95.30 L155.44,95.85 L157.39,97.46 L159.34,100.11 L161.28,103.75 L163.22,108.32 L165.17,113.77 L167.12,120.04 L169.06,127.05 L171.00,134.74 L172.95,143.03 L174.90,151.84 L176.84,161.10 L178.78,170.74 L180.73,180.66 L182.68,190.80 L184.62,201.08 L186.56,211.43 L188.51,221.77 L190.46,232.04 L192.40,242.18 L194.34,252.12 L196.29,261.80 L198.24,271.18 L200.18,280.20 L202.12,288.82 L204.07,297.01 L206.02,304.71 L207.96,311.91 L209.91,318.58 L211.85,324.70 L213.80,330.25 L215.74,335.21 L217.69,339.58 L219.63,343.35 L221.58,346.53 L223.52,349.11 L225.47,351.09 L227.41,352.49 L229.36,353.33 L231.30,353.60 L233.70,353.12 L236.10,351.71 L238.50,349.40 L240.90,346.24 L243.30,342.28 L245.70,337.57 L248.10,332.18 L250.50,326.16 L252.90,319.58 L255.30,312.51 L257.70,305.02 L260.10,297.18 L262.50,289.06 L264.90,280.72 L267.30,272.23 L269.70,263.66 L272.10,255.07 L274.50,246.52 L276.90,238.06 L279.30,229.75 L281.70,221.63 L284.10,213.76 L286.50,206.17 L288.90,198.90 L291.30,191.99 L293.70,185.45 L296.10,179.33 L298.50,173.63 L300.90,168.37 L303.30,163.58 L305.70,159.25 L308.10,155.39 L310.50,152.01 L312.90,149.10 L315.30,146.67 L317.70,144.70 L320.10,143.19 L322.50,142.13 L324.90,141.51 L327.30,141.30 L329.45,141.44 L331.61,141.87 L333.76,142.56 L335.92,143.51 L338.07,144.72 L340.23,146.15 L342.38,147.81 L344.54,149.66 L346.69,151.70 L348.85,153.90 L351.00,156.25 L353.16,158.72 L355.31,161.30 L357.47,163.96 L359.62,166.69 L361.78,169.47 L363.94,172.27 L366.09,175.07 L368.25,177.87 L370.40,180.63 L372.56,183.35 L374.71,186.01 L376.87,188.59 L379.02,191.08 L381.18,193.47 L383.33,195.74 L385.49,197.89 L387.64,199.90 L389.80,201.77 L391.95,203.49 L394.11,205.05 L396.26,206.45 L398.41,207.69 L400.57,208.77 L402.73,209.67 L404.88,210.41 L407.04,210.98 L409.19,211.38 L411.35,211.62 L413.50,211.70 L415.90,211.60 L418.30,211.31 L420.70,210.84 L423.10,210.19 L425.50,209.38 L427.90,208.43 L430.30,207.34 L432.70,206.13 L435.10,204.82 L437.50,203.42 L439.90,201.95 L442.30,200.41 L444.70,198.83 L447.10,197.22 L449.50,195.60 L451.90,193.96 L454.30,192.34 L456.70,190.73 L459.10,189.16 L461.50,187.62 L463.90,186.14 L466.30,184.70 L468.70,183.33 L471.10,182.03 L473.50,180.80 L475.90,179.65 L478.30,178.58 L480.70,177.59 L483.10,176.69 L485.50,175.87 L487.90,175.14 L490.30,174.50 L492.70,173.93 L495.10,173.46 L497.50,173.06 L499.90,172.74 L502.30,172.50 L504.70,172.33 L507.10,172.23 L509.50,172.20 L511.49,172.22 L513.48,172.27 L515.46,172.36 L517.45,172.48 L519.44,172.64 L521.42,172.83 L523.41,173.06 L525.40,173.32 L527.39,173.62 L529.38,173.94 L531.36,174.30 L533.35,174.69 L535.34,175.10 L537.33,175.54 L539.31,176.00 L541.30,176.48 L543.29,176.98 L545.27,177.49 L547.26,178.02 L549.25,178.56 L551.24,179.10 L553.23,179.65 L555.21,180.19 L557.20,180.73 L559.19,181.26 L561.17,181.79 L563.16,182.29 L565.15,182.78 L567.14,183.24 L569.12,183.68 L571.11,184.09 L573.10,184.47 L575.09,184.81 L577.08,185.12 L579.06,185.38 L581.05,185.60 L583.04,185.77 L585.02,185.90 L587.01,185.97 L589.00,186.00 L591.62,185.98 L594.25,185.93 L596.88,185.85 L599.50,185.74 L602.12,185.60 L604.75,185.43 L607.38,185.23 L610.00,185.01 L612.62,184.77 L615.25,184.50 L617.88,184.22 L620.50,183.92 L623.12,183.61 L625.75,183.29 L628.38,182.95 L631.00,182.61 L633.62,182.27 L636.25,181.93 L638.88,181.58 L641.50,181.24 L644.12,180.90 L646.75,180.57 L649.38,180.25 L652.00,179.94 L654.62,179.64 L657.25,179.35 L659.88,179.08 L662.50,178.82 L665.12,178.58 L667.75,178.36 L670.38,178.16 L673.00,177.98 L675.62,177.82 L678.25,177.68 L680.88,177.57 L683.50,177.47 L684.10,177.45" stroke="#7e2f8e" stroke-width="2.25"/>
<path d="M103.50,527.50 L104.44,500.87 L105.38,475.10 L106.32,450.18 L107.26,426.09 L108.20,402.83 L109.14,380.39 L110.08,358.76 L111.02,337.93 L111.96,317.89 L112.90,298.63 L113.84,280.15 L114.78,262.42 L115.72,245.45 L116.66,229.22 L117.60,213.72 L118.54,198.95 L119.48,184.89 L120.42,171.53 L121.36,158.87 L122.30,146.90 L123.24,135.61 L124.18,124.98 L125.12,115.01 L126.06,105.68 L127.00,97.00 L127.94,88.94 L128.88,81.51 L129.82,74.68 L130.76,68.45 L131.70,62.82 L132.64,57.77 L133.58,53.29 L134.52,49.37 L135.46,46.00 L136.40,43.18 L137.34,40.90 L138.28,39.13 L139.22,37.89 L140.16,37.14 L141.10,36.90 L142.59,37.58 L144.08,39.58 L145.57,42.88 L147.06,47.42 L148.55,53.15 L150.04,60.00 L151.53,67.91 L153.02,76.79 L154.51,86.57 L156.00,97.16 L157.49,108.46 L158.98,120.40 L160.47,132.87 L161.96,145.78 L163.45,159.03 L164.94,172.53 L166.43,186.19 L167.92,199.91 L169.41,213.60 L170.90,227.18 L172.39,240.57 L173.88,253.68 L175.37,266.44 L176.86,278.79 L178.35,290.65 L179.84,301.96 L181.33,312.67 L182.82,322.74 L184.31,332.11 L185.80,340.75 L187.29,348.63 L188.78,355.71 L190.27,361.99 L191.76,367.43 L193.25,372.03 L194.74,375.79 L196.23,378.70 L197.72,380.76 L199.21,381.99 L200.70,382.40 L202.36,381.75 L204.02,379.84 L205.68,376.71 L207.34,372.41 L209.00,367.01 L210.66,360.57 L212.32,353.17 L213.98,344.89 L215.64,335.82 L217.30,326.05 L218.96,315.66 L220.62,304.75 L222.28,293.41 L223.94,281.73 L225.60,269.81 L227.26,257.72 L228.92,245.56 L230.58,233.41 L232.24,221.36 L233.90,209.46 L235.56,197.81 L237.22,186.46 L238.88,175.48 L240.54,164.92 L242.20,154.83 L243.86,145.27 L245.52,136.26 L247.18,127.85 L248.84,120.07 L250.50,112.93 L252.16,106.47 L253.82,100.69 L255.48,95.60 L257.14,91.21 L258.80,87.51 L260.46,84.52 L262.12,82.21 L263.78,80.58 L265.44,79.62 L267.10,79.30 L268.71,79.67 L270.32,80.75 L271.93,82.53 L273.54,84.97 L275.15,88.04 L276.76,91.69 L278.37,95.90 L279.98,100.61 L281.59,105.77 L283.20,111.34 L284.81,117.27 L286.42,123.50 L288.03,129.98 L289.64,136.66 L291.25,143.48 L292.86,150.41 L294.47,157.38 L296.08,164.35 L297.69,171.27 L299.30,178.11 L300.91,184.82 L302.52,191.36 L304.13,197.69 L305.74,203.79 L307.35,209.61 L308.96,215.15 L310.57,220.36 L312.18,225.23 L313.79,229.75 L315.40,233.89 L317.01,237.65 L318.62,241.02 L320.23,243.98 L321.84,246.54 L323.45,248.70 L325.06,250.45 L326.67,251.79 L328.28,252.75 L329.89,253.31 L331.50,253.50 L333.15,253.24 L334.81,252.47 L336.46,251.22 L338.11,249.50 L339.76,247.34 L341.42,244.77 L343.07,241.82 L344.72,238.54 L346.37,234.94 L348.02,231.07 L349.68,226.96 L351.33,222.66 L352.98,218.20 L354.63,213.61 L356.29,208.94 L357.94,204.22 L359.59,199.48 L361.25,194.75 L362.90,190.07 L364.55,185.47 L366.20,180.97 L367.86,176.60 L369.51,172.38 L371.16,168.33 L372.81,164.47 L374.47,160.83 L376.12,157.40 L377.77,154.21 L379.42,151.26 L381.08,148.57 L382.73,146.14 L384.38,143.97 L386.03,142.06 L387.69,140.42 L389.34,139.04 L390.99,137.93 L392.64,137.08 L394.30,136.47 L395.95,136.12 L397.60,136.00 L399.18,136.12 L400.76,136.49 L402.34,137.10 L403.92,137.94 L405.50,139.01 L407.08,140.29 L408.66,141.79 L410.24,143.48 L411.82,145.35 L413.40,147.38 L414.98,149.58 L416.56,151.91 L418.14,154.36 L419.72,156.92 L421.30,159.57 L422.88,162.29 L424.46,165.06 L426.04,167.87 L427.62,170.69 L429.20,173.51 L430.78,176.32 L432.36,179.09 L433.94,181.81 L435.52,184.46 L437.10,187.02 L438.68,189.49 L440.26,191.85 L441.84,194.08 L443.42,196.18 L445.00,198.13 L446.58,199.92 L448.16,201.54 L449.74,202.99 L451.32,204.25 L452.90,205.33 L454.48,206.22 L456.06,206.91 L457.64,207.40 L459.22,207.70 L460.80,207.80 L462.46,207.71 L464.12,207.44 L465.79,206.99 L467.45,206.38 L469.11,205.61 L470.77,204.68 L472.44,203.61 L474.10,202.40 L475.76,201.08 L477.43,199.64 L479.09,198.10 L480.75,196.48 L482.41,194.78 L484.07,193.02 L485.74,191.21 L487.40,189.37 L489.06,187.50 L490.72,185.62 L492.39,183.74 L494.05,181.88 L495.71,180.04 L497.38,178.24 L499.04,176.48 L500.70,174.78 L502.36,173.14 L504.02,171.58 L505.69,170.10 L507.35,168.70 L509.01,167.40 L510.67,166.20 L512.34,165.11 L514.00,164.12 L515.66,163.25 L517.32,162.49 L518.99,161.85 L520.65,161.33 L522.31,160.92 L523.97,160.63 L525.64,160.46 L527.30,160.40 L528.94,160.46 L530.58,160.64 L532.23,160.94 L533.87,161.34 L535.51,161.85 L537.15,162.46 L538.80,163.16 L540.44,163.94 L542.08,164.79 L543.72,165.72 L545.37,166.70 L547.01,167.72 L548.65,168.79 L550.29,169.90 L551.94,171.02 L553.58,172.16 L555.22,173.31 L556.87,174.46 L558.51,175.59 L560.15,176.72 L561.79,177.81 L563.43,178.89 L565.08,179.92 L566.72,180.92 L568.36,181.87 L570.00,182.77 L571.65,183.62 L573.29,184.42 L574.93,185.15 L576.58,185.83 L578.22,186.44 L579.86,186.98 L581.50,187.46 L583.14,187.88 L584.79,188.22 L586.43,188.51 L588.07,188.73 L589.72,188.88 L591.36,188.97 L593.00,189.00 L594.71,188.96 L596.41,188.85 L598.12,188.68 L599.83,188.43 L601.54,188.12 L603.25,187.75 L604.95,187.32 L606.66,186.84 L608.37,186.30 L610.08,185.73 L611.78,185.11 L613.49,184.46 L615.20,183.78 L616.90,183.07 L618.61,182.35 L620.32,181.61 L622.03,180.86 L623.74,180.11 L625.44,179.35 L627.15,178.61 L628.86,177.87 L630.56,177.15 L632.27,176.44 L633.98,175.76 L635.69,175.10 L637.39,174.48 L639.10,173.88 L640.81,173.33 L642.52,172.81 L644.22,172.32 L645.93,171.89 L647.64,171.49 L649.35,171.14 L651.05,170.84 L652.76,170.58 L654.47,170.37 L656.18,170.21 L657.88,170.09 L659.59,170.02 L661.30,170.00 L662.89,170.02 L664.48,170.08 L666.08,170.17 L667.67,170.30 L669.26,170.46 L670.86,170.66 L672.45,170.89 L674.04,171.14 L675.63,171.42 L677.22,171.72 L678.82,172.05 L680.41,172.39 L682.00,172.75 L683.60,173.12 L684.10,173.24" stroke="#77ac30" stroke-width="2.5" stroke-dasharray="1.5 4.8" stroke-linecap="round"/>
<line x1="89.2" y1="176.25" x2="683.9" y2="176.25" stroke="#28b7f0" stroke-width="1.5" stroke-dasharray="8.8 4.74"/>
</g>
<g font-size="20.8px"><text x="112.60" y="474.4" text-anchor="middle">11</text><text x="211.94" y="474.4" text-anchor="middle">12</text><text x="310.48" y="474.4" text-anchor="middle">13</text><text x="409.02" y="474.4" text-anchor="middle">14</text><text x="507.56" y="474.4" text-anchor="middle">15</text><text x="606.10" y="474.4" text-anchor="middle">16</text><text x="82" y="42.10" text-anchor="end">95.4</text><text x="82" y="112.24" text-anchor="end">95.2</text><text x="76.9" y="182.38" text-anchor="end">95</text><text x="82" y="252.52" text-anchor="end">94.8</text><text x="82" y="322.66" text-anchor="end">94.6</text><text x="82" y="392.80" text-anchor="end">94.4</text></g>
<text x="382.8" y="504.8" text-anchor="middle" font-size="23.7px">Time (s)</text>
<text transform="translate(17.9,223) rotate(-90)" text-anchor="middle" font-size="23.85px">Condenser pressure (kPA)</text>
<g fill="none" stroke-linecap="butt">
<line x1="401.8" y1="275.8" x2="442.5" y2="275.8" stroke="#0000ff" stroke-width="3.1" stroke-linecap="round"/>
<line x1="401.4" y1="300.5" x2="442.9" y2="300.5" stroke="#ff0000" stroke-width="2.3" stroke-linecap="round"/>
<line x1="400.6" y1="325.2" x2="442.8" y2="325.2" stroke="#000" stroke-width="1.6" stroke-dasharray="16.4 9.4"/>
<line x1="400.6" y1="349.6" x2="443.7" y2="349.6" stroke="#7e2f8e" stroke-width="2.1"/>
<line x1="400.8" y1="374.4" x2="443" y2="374.4" stroke="#77ac30" stroke-width="1.35" stroke-dasharray="3.9 2.15"/>
<line x1="401" y1="400.6" x2="443.5" y2="400.6" stroke="#28b7f0" stroke-width="1.3" stroke-dasharray="8.8 4.8"/>
</g>
<g class="lg" font-size="19.25px"><text x="450.9" y="282.4">EEFO</text><text x="450.9" y="307.1">QIO</text><text x="450.9" y="331.8">KMA</text><text x="450.9" y="356.2">GEO</text><text x="450.9" y="381.0">SMA</text><text x="450.9" y="407.2">Pressure setpoint</text></g>
</svg>
</body></html>
